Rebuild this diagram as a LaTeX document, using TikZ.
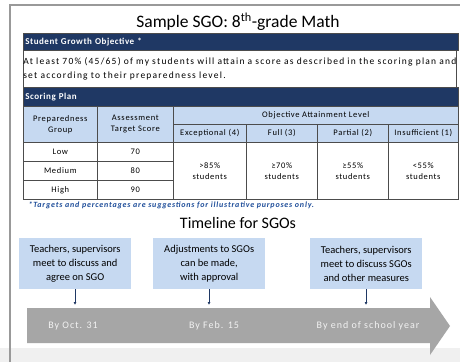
\documentclass[tikz,border=0pt]{standalone}
\usepackage{fontspec}
\setmainfont{Carlito}
\usepackage{xcolor}
\usetikzlibrary{arrows.meta}
\definecolor{navy}{HTML}{1F3864}
\definecolor{paleblue}{HTML}{C6D9F1}
\definecolor{slate}{HTML}{A6A6A6}
\definecolor{note}{HTML}{1F4E9A}
\tikzset{
  cell/.style    = {shape=rectangle, draw=black!70, line width=0.6pt,
                    inner sep=0pt, anchor=north west, align=center,
                    font=\fontsize{8.5}{11}\selectfont\addfontfeature{LetterSpace=8}},
  bar/.style     = {cell, fill=navy, text=white, align=left,
                    font=\bfseries\fontsize{9}{10}\selectfont\addfontfeature{LetterSpace=6}},
  txt/.style     = {cell, align=left, text width=433pt, minimum height=37pt,
                    font=\fontsize{9.5}{14}\selectfont\addfontfeature{LetterSpace=13}},
  colhead/.style = {cell, fill=paleblue},
  step box/.style = {shape=rectangle, fill=paleblue, align=center,
                    anchor=north west, inner sep=0pt,
                    minimum width=112pt, minimum height=51pt,
                    font=\fontsize{10.5}{14}\selectfont},
  date/.style    = {text=white!95!black, font=\fontsize{10}{12}\selectfont\addfontfeature{LetterSpace=10}},
  pin/.style     = {draw=navy, line width=0.7pt, -{Latex[length=3pt,width=3pt]}}
}
\begin{document}
\begin{tikzpicture}[x=1pt, y=-1pt]
  \useasboundingbox (0,0) rectangle (460,362);
  \fill[white] (0,0) rectangle (460,362);
  \fill[black!6] (0,348) rectangle (460,362);
  \draw[black!40, line width=1.6pt] (10,362) -- (10,5) -- (460,5);

  \node (title) at (238,22) {\fontsize{17.5}{20}\selectfont Sample SGO: 8\textsuperscript{th}-grade Math};

  \node [bar, minimum width=435pt, minimum height=17pt, text width=431pt] (sgohead) at (23,33) {Student Growth Objective *};
  \node [txt] (sgotext) at (23,50) {At least 70\% (45/65) of my students will attain a score as described in the scoring plan and\\set according to their preparedness level.};
  \node [bar, minimum width=435pt, minimum height=19pt, text width=431pt] (planhead) at (23,87) {Scoring Plan};

  \node [colhead, minimum width=74pt, minimum height=36pt] (prep) at (23,106) {Preparedness\\Group};
  \node [colhead, minimum width=76pt, minimum height=36pt] (target) at (97,106) {Assessment\\Target Score};
  \node [colhead, minimum width=285pt, minimum height=18pt] (level) at (173,106) {Objective Attainment Level};
  \node [colhead, minimum width=73pt, minimum height=18pt] (exc) at (173,124) {Exceptional (4)};
  \node [colhead, minimum width=71pt, minimum height=18pt] (full) at (246,124) {Full (3)};
  \node [colhead, minimum width=71pt, minimum height=18pt] (part) at (317,124) {Partial (2)};
  \node [colhead, minimum width=70pt, minimum height=18pt] (insuf) at (388,124) {Insufficient (1)};

  \node [cell, minimum width=74pt, minimum height=19pt] (low) at (23,142) {Low};
  \node [cell, minimum width=74pt, minimum height=19pt] (med) at (23,161) {Medium};
  \node [cell, minimum width=74pt, minimum height=19pt] (high) at (23,180) {High};
  \node [cell, minimum width=76pt, minimum height=19pt] (lowsc) at (97,142) {70};
  \node [cell, minimum width=76pt, minimum height=19pt] (medsc) at (97,161) {80};
  \node [cell, minimum width=76pt, minimum height=19pt] (highsc) at (97,180) {90};
  \node [cell, minimum width=73pt, minimum height=57pt] (excpc) at (173,142) {>85\%\\students};
  \node [cell, minimum width=71pt, minimum height=57pt] (fullpc) at (246,142) {≥70\%\\students};
  \node [cell, minimum width=71pt, minimum height=57pt] (partpc) at (317,142) {≥55\%\\students};
  \node [cell, minimum width=70pt, minimum height=57pt] (insufpc) at (388,142) {<55\%\\students};

  \node [anchor=west, text=note, font=\bfseries\itshape\fontsize{8}{9}\selectfont\addfontfeature{LetterSpace=10}] (foot) at (25,205) {*Targets and percentages are suggestions for illustrative purposes only.};

  \node (timeline) at (238,223) {\fontsize{16}{18}\selectfont Timeline for SGOs};

  \node [step box] (meet) at (19,238) {Teachers, supervisors\\meet to discuss and\\agree on SGO};
  \node [step box] (adjust) at (153,238) {Adjustments to SGOs\\can be made,\\with approval};
  \node [step box] (review) at (310,238) {Teachers, supervisors\\meet to discuss SGOs\\and other measures};

  \fill[slate] (27,308) -- (430,308) -- (430,297) -- (450,326) -- (430,355) -- (430,343) -- (27,343) -- cycle;

  \node [date] (oct) at (73,326) {By Oct. 31};
  \node [date] (feb) at (214,326) {By Feb. 15};
  \node [date] (june) at (368,326) {By end of school year};

  \coordinate (p1) at (75,305);
  \coordinate (p2) at (209,305);
  \coordinate (p3) at (366,305);
  \draw [pin] (meet.south -| p1) -- (p1);
  \draw [pin] (adjust.south -| p2) -- (p2);
  \draw [pin] (review.south -| p3) -- (p3);
\end{tikzpicture}
\end{document}
